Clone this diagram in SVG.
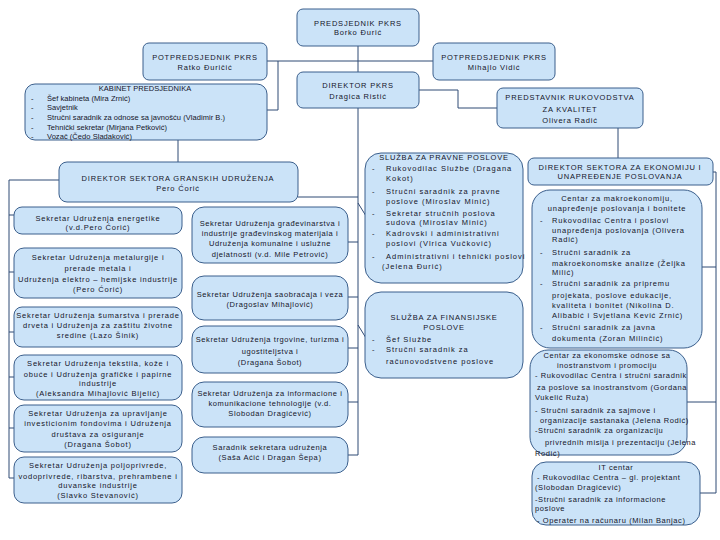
<svg xmlns="http://www.w3.org/2000/svg" width="720" height="540" viewBox="0 0 720 540">
<style>
.b{fill:#cbe3f8;stroke:#3b5f8c;stroke-width:1}
text{font-family:"Liberation Sans",Arial,sans-serif;font-size:7.5px;fill:#15152a;letter-spacing:0.8px}
.c{text-anchor:middle}
.k{letter-spacing:0.05px}
.n{letter-spacing:0.6px}
.w{letter-spacing:1px}
.cn{fill:none;stroke:#2f4a75;stroke-width:1}
</style>
<rect width="720" height="540" fill="#ffffff"/>
<g id="connectors" class="cn">
<path d="M358 46V72M267 61H433"/>
<path d="M278 61V110H267"/>
<path d="M419 90H458V108H497"/>
<path d="M618 128V158"/>
<path d="M178 140V162"/>
<path d="M358 108V455"/>
<path d="M298 197H358"/>
<path d="M59 180H9V478M9 215H14M9 272H14M9 332H14M9 377H14M9 428H14M9 478H14"/>
<path d="M348 242H358M348 297H358M348 348H358M348 402H358M348 455H358"/>
<path d="M358 203L366 216M358 325L366 338"/>
<path d="M713 172H716V493M702 267H716M687 402H716M700 493H716"/>
</g>
<g id="president"><rect class="b" x="297" y="9" width="122" height="37" rx="6"/>
<text class="c" x="358" y="25.5">PREDSJEDNIK PKRS</text><text class="c" x="358" y="35">Borko Đurić</text></g>
<g id="vp1"><rect class="b" x="143" y="43" width="124" height="37" rx="6"/>
<text class="c" x="205" y="59.5">POTPREDSJEDNIK PKRS</text><text class="c" x="205" y="70">Ratko Đuričić</text></g>
<g id="vp2"><rect class="b" x="433" y="43" width="122" height="37" rx="6"/>
<text class="c" x="494" y="59.5">POTPREDSJEDNIK PKRS</text><text class="c" x="494" y="70">Mihajlo Vidić</text></g>
<g id="director"><rect class="b" x="297" y="72" width="122" height="36" rx="6"/>
<text class="c" x="358" y="87.5">DIREKTOR PKRS</text><text class="c" x="358" y="98.5">Dragica Ristić</text></g>
<g id="quality"><rect class="b" x="497" y="88" width="146" height="40" rx="6"/>
<text class="c" x="570" y="99.5">PREDSTAVNIK RUKOVODSTVA</text><text class="c" x="570" y="111.5">ZA KVALITET</text><text class="c" x="570" y="122.5">Olivera Radić</text></g>
<g id="cabinet"><rect class="b" x="25" y="84" width="242" height="56" rx="10"/>
<text class="c k" x="145" y="91">KABINET PREDSJEDNIKA</text>
<text class="k" x="31" y="100.5">-</text><text class="k" x="47" y="100.5">Šef kabineta (Mira Zrnić)</text>
<text class="k" x="31" y="110">-</text><text class="k" x="47" y="110">Savjetnik</text>
<text class="k" x="31" y="119.5">-</text><text class="k" x="47" y="119.5">Stručni saradnik za odnose sa javnošću (Vladimir B.)</text>
<text class="k" x="31" y="129.5">-</text><text class="k" x="47" y="129.5">Tehnički sekretar (Mirjana Petković)</text>
<text class="k" x="31" y="138.5">-</text><text class="k" x="47" y="138.5">Vozač (Čedo Sladaković)</text></g>
<g id="sector"><rect class="b" x="59" y="162" width="239" height="40" rx="8"/>
<text class="c" x="178" y="180.5">DIREKTOR SEKTORA GRANSKIH UDRUŽENJA</text><text class="c" x="178" y="190.5">Pero Ćorić</text></g>
<g id="l1"><rect class="b" x="14" y="207" width="168" height="27" rx="8"/>
<text class="c" x="98" y="220.5">Sekretar Udruženja energetike</text><text class="c" x="98" y="229.5">(v.d.Pero Ćorić)</text></g>
<g id="l2"><rect class="b" x="14" y="248" width="168" height="50" rx="10"/>
<text class="c" x="98" y="259.5">Sekretar Udruženja metalurgije i</text><text class="c" x="98" y="270.5">prerade metala i</text><text class="c" x="98" y="281.5">Udruženja elektro – hemijske industrije</text><text class="c" x="98" y="291.5">(Pero Ćorić)</text></g>
<g id="l3"><rect class="b" x="14" y="307" width="168" height="40" rx="8"/>
<text class="c" x="98" y="317.5">Sekretar Udruženja šumarstva i prerade</text><text class="c" x="98" y="327.5">drveta i Udruženja za zaštitu životne</text><text class="c" x="98" y="337.5">sredine (Lazo Šinik)</text></g>
<g id="l4"><rect class="b" x="14" y="355" width="168" height="45" rx="10"/>
<text class="c" x="98" y="365.5">Sekretar Udruženja tekstila, kože i</text><text class="c" x="98" y="376.5">obuće i Udruženja grafičke i papirne</text><text class="c" x="98" y="385.5">industrije</text><text class="c" x="98" y="395.5">(Aleksandra Mihajlović Bijelić)</text></g>
<g id="l5"><rect class="b" x="14" y="405" width="168" height="47" rx="10"/>
<text class="c" x="98" y="415.5">Sekretar Udruženja za upravljanje</text><text class="c" x="98" y="425.5">investicionim fondovima i Udruženja</text><text class="c" x="98" y="436.5">društava za osiguranje</text><text class="c" x="98" y="446.5">(Dragana Šobot)</text></g>
<g id="l6"><rect class="b" x="14" y="457" width="168" height="46" rx="10"/>
<text class="c" x="98" y="467.5">Sekretar Udruženja poljoprivrede,</text><text class="c" x="98" y="478.5">vodoprivrede, ribarstva, prehrambene i</text><text class="c" x="98" y="487.5">duvanske industrije</text><text class="c" x="98" y="497.5">(Slavko Stevanović)</text></g>
<g id="m1"><rect class="b" x="192" y="207" width="156" height="56" rx="12"/>
<text class="c n" x="270" y="225.5">Sekretar Udruženja građevinarstva i</text><text class="c n" x="270" y="235.5">industrije građevinskog materijala i</text><text class="c n" x="270" y="245.5">Udruženja komunalne i uslužne</text><text class="c n" x="270" y="256.5">djelatnosti (v.d. Mile Petrović)</text></g>
<g id="m2"><rect class="b" x="192" y="276" width="156" height="44" rx="12"/>
<text class="c n" x="270" y="296.5">Sekretar Udruženja saobraćaja i veza</text><text class="c n" x="270" y="306.5">(Dragoslav Mihajlović)</text></g>
<g id="m3"><rect class="b" x="192" y="326" width="156" height="47" rx="12"/>
<text class="c n" x="270" y="341.5">Sekretar Udruženja trgovine, turizma i</text><text class="c n" x="270" y="353.5">ugostiteljstva i</text><text class="c n" x="270" y="364.5">(Dragana Šobot)</text></g>
<g id="m4"><rect class="b" x="192" y="382" width="156" height="45" rx="12"/>
<text class="c n" x="270" y="395.5">Sekretar Udruženja za informacione i</text><text class="c n" x="270" y="405.5">komunikacione tehnologije (v.d.</text><text class="c n" x="270" y="415.5">Slobodan Dragićević)</text></g>
<g id="m5"><rect class="b" x="192" y="437" width="156" height="36" rx="12"/>
<text class="c n" x="270" y="449.5">Saradnik sekretara udruženja</text><text class="c n" x="270" y="459.5">(Saša Aćić i Dragan Šepa)</text></g>
<g id="legal"><rect class="b" x="365" y="153" width="158" height="130" rx="16"/>
<text class="c" x="444" y="159.5">SLUŽBA ZA PRAVNE POSLOVE</text>
<text x="372" y="170.5">-</text><text class="w" x="386" y="170.5">Rukovodilac Službe (Dragana</text><text class="w" x="386" y="180.5">Kokot)</text>
<text x="372" y="193.5">-</text><text class="w" x="386" y="193.5">Stručni saradnik za pravne</text><text class="w" x="386" y="203.5">poslove (Miroslav Minić)</text>
<text x="372" y="215.5">-</text><text class="w" x="386" y="215.5">Sekretar stručnih poslova</text><text class="w" x="386" y="224.5">sudova (Miroslav Minić)</text>
<text x="372" y="235.5">-</text><text class="w" x="386" y="235.5">Kadrovski i administrativni</text><text class="w" x="386" y="245.5">poslovi (Vlrica Vučković)</text>
<text x="372" y="258.5">-</text><text class="w" x="386" y="258.5">Administrativni i tehnički poslovi</text><text class="w" x="382" y="268.5">(Jelena Đurić)</text></g>
<g id="finance"><rect class="b" x="365" y="292" width="158" height="86" rx="16"/>
<text class="c" x="444" y="319.5">SLUŽBA ZA FINANSIJSKE</text><text class="c" x="444" y="329.5">POSLOVE</text>
<text x="372" y="341.5">-</text><text class="w" x="386" y="341.5">Šef Službe</text>
<text x="372" y="351.5">-</text><text class="w" x="386" y="351.5">Stručni saradnik za</text><text class="w" x="386" y="363.5">računovodstvene poslove</text></g>
<g id="econdir"><rect class="b" x="528" y="158" width="185" height="27" rx="6"/>
<text class="c" x="620" y="169.5">DIREKTOR SEKTORA ZA EKONOMIJU I</text><text class="c" x="620" y="178.5">UNAPREĐENJE POSLOVANJA</text></g>
<g id="macro"><rect class="b" x="532" y="190" width="170" height="158" rx="18"/>
<text class="c" x="617" y="200.5">Centar za makroekonomiju,</text><text class="c" x="617" y="210.5">unapređenje poslovanja i bonitete</text>
<text x="540" y="222.5">-</text><text x="552" y="222.5">Rukovodilac Centra i poslovi</text><text x="552" y="232.5">unapređenja poslovanja (Olivera</text><text x="552" y="241.5">Radić)</text>
<text x="540" y="254.5">-</text><text x="552" y="254.5">Stručni saradnik za</text><text x="552" y="265.5">makroekonomske analize (Željka</text><text x="552" y="274.5">Milić)</text>
<text x="540" y="285.5">-</text><text x="552" y="285.5">Stručni saradnik za pripremu</text><text x="552" y="297.5">projekata, poslove edukacije,</text><text x="552" y="307.5">kvaliteta i bonitet (Nikolina D.</text><text x="552" y="317.5">Alibabić i Svjetlana Kević Zrnić)</text>
<text x="540" y="329.5">-</text><text x="552" y="329.5">Stručni saradnik za javna</text><text x="552" y="340.5">dokumenta (Zoran Milinčić)</text></g>
<g id="foreign"><rect class="b" x="530" y="350" width="157" height="105" rx="18"/>
<text class="c n" x="607" y="357.5">Centar za ekonomske odnose sa</text><text class="c n" x="607" y="367.5">inostranstvom i promociju</text>
<text class="n" x="535" y="377.5">- Rukovodilac Centra i stručni saradnik</text><text class="n" x="537" y="389.5">za poslove sa inostranstvom (Gordana</text><text class="n" x="535" y="399.5">Vukelić Ruža)</text>
<text class="n" x="535" y="412.5">- Stručni saradnik za sajmove i</text><text class="n" x="540" y="422.5">organizacije sastanaka (Jelena Rodić)</text>
<text class="n" x="535" y="432.5">-Stručni saradnik za organizaciju</text><text class="n" x="545" y="444.5">privrednih misija i prezentaciju (Jelena</text><text class="n" x="535" y="455.5">Rodić)</text></g>
<g id="it"><rect class="b" x="532" y="462" width="168" height="63" rx="14"/>
<text class="c n" x="616" y="469.5">IT centar</text>
<text class="n" x="537" y="479.5">- Rukovodilac Centra – gl. projektant</text><text class="n" x="535" y="489.5">(Slobodan Dragićević)</text>
<text class="n" x="535" y="501.5">-Stručni saradnik za informacione</text><text class="n" x="535" y="510.5">poslove</text>
<text class="n" x="537" y="522.5">- Operater na računaru (Milan Banjac)</text></g>
</svg>
